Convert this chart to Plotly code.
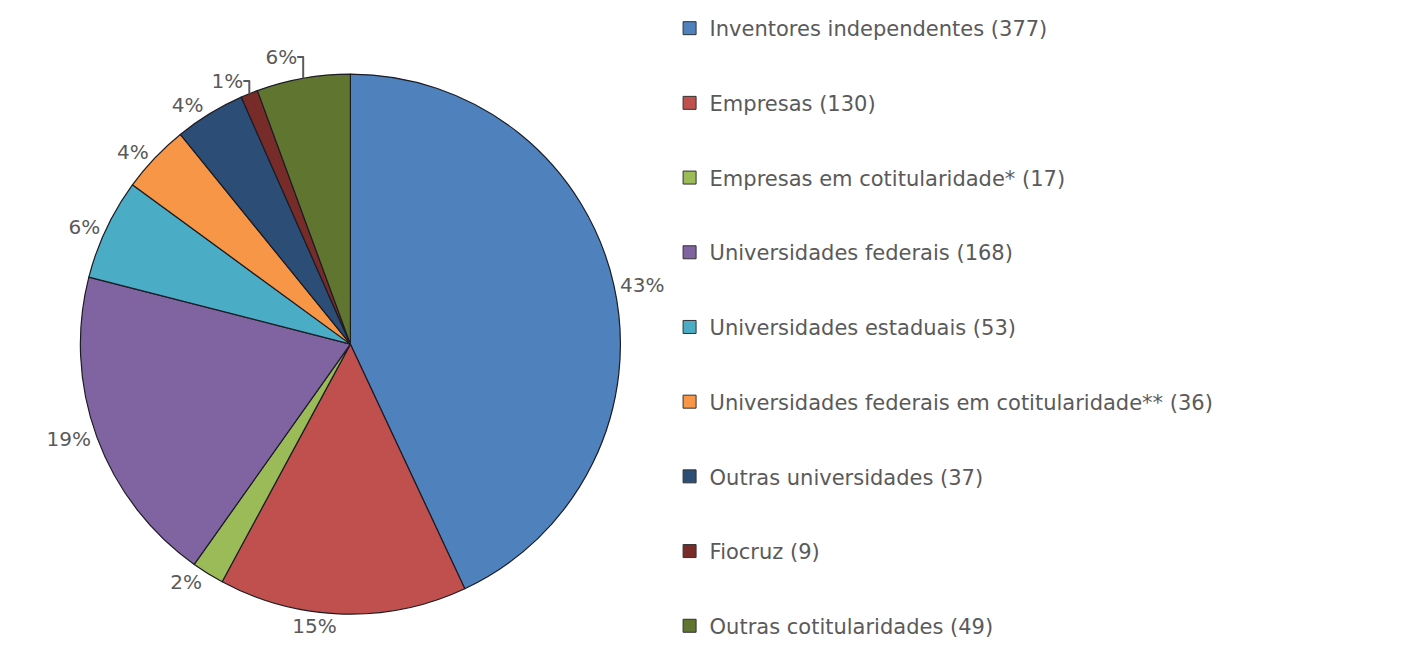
import plotly.graph_objects as go

# titular categories and number of patents
names = ['Inventores independentes', 'Empresas', 'Empresas em cotitularidade*',
         'Universidades federais', 'Universidades estaduais',
         'Universidades federais em cotitularidade**', 'Outras universidades',
         'Fiocruz', 'Outras cotitularidades']
counts = [377, 130, 17, 168, 53, 36, 37, 9, 49]
colors = ['#4F81BD', '#C0504D', '#9BBB59', '#8064A2', '#4BACC6',
          '#F79646', '#2C4D75', '#772C2A', '#5F7530']

text_color = '#5a5a5a'

fig = go.Figure()
fig.add_trace(go.Pie(labels=names, values=counts, sort=False,
                     direction='clockwise', rotation=0,
                     marker=dict(colors=colors, line=dict(color='#1c1c24', width=1.2)),
                     texttemplate='%{percent:.0%}', textposition='outside',
                     textfont=dict(family='DejaVu Sans', size=20, color=text_color),
                     domain=dict(x=[0.0506, 0.4303], y=[0.086, 0.903]),
                     showlegend=False, hoverinfo='label+value+percent'))

# legend entries, one group each so the spacing can be opened up
for i in range(len(names)):
    fig.add_trace(go.Scatter(x=[None], y=[None], mode='markers',
                             name='%s (%d)' % (names[i], counts[i]),
                             legendgroup=names[i],
                             marker=dict(symbol='square', size=13, color=colors[i],
                                         line=dict(color='#333333', width=1))))

fig.update_layout(width=1424, height=663,
                  margin=dict(l=0, r=0, t=0, b=0),
                  paper_bgcolor='white', plot_bgcolor='white',
                  xaxis=dict(visible=False), yaxis=dict(visible=False),
                  legend=dict(x=0.4646, y=1.003, xanchor='left', yanchor='top',
                              tracegroupgap=44.4, itemwidth=30, maxheight=760,
                              font=dict(family='DejaVu Sans', size=21, color=text_color)))

fig.write_html("out.html")
